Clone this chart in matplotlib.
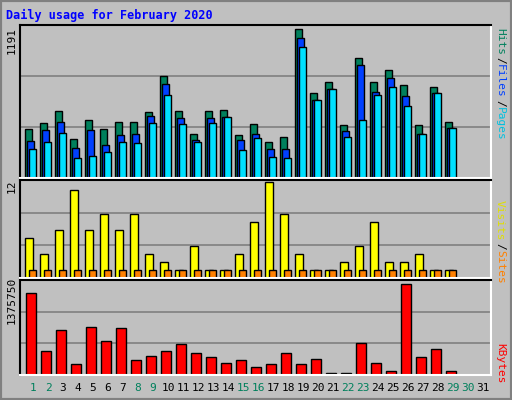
import numpy as np
import matplotlib.pyplot as plt
from matplotlib.patches import Rectangle

days = np.arange(1, 32)
weekend = [1, 2, 8, 9, 15, 16, 22, 23, 29, 30]

hits = [391, 439, 536, 310, 463, 391, 447, 447, 528, 819, 536, 351, 536, 544, 342, 431, 286,
        326, 1191, 682, 771, 423, 965, 771, 868, 747, 423, 731, 447, 0, 0]
files = [294, 383, 447, 237, 383, 261, 342, 351, 495, 754, 479, 302, 479, 488, 302, 351, 229,
         229, 1118, 625, 714, 374, 908, 690, 803, 657, 351, 682, 398, 0, 0]
pages = [229, 286, 358, 164, 173, 205, 286, 277, 439, 666, 432, 286, 439, 488, 221, 318, 167,
         164, 1053, 625, 714, 326, 463, 666, 731, 576, 351, 682, 398, 0, 0]
visits = [5, 3, 6, 11, 6, 8, 6, 8, 3, 2, 1, 4, 1, 1, 3, 7, 12, 8, 3, 1, 1, 2, 4, 7, 2, 2, 3, 1, 1, 0, 0]
sites = [1] * 29 + [0, 0]
kbytes = [1240000, 365000, 671000, 170000, 725000, 515000, 711000, 230000, 290000, 365000,
          470000, 335000, 275000, 184000, 230000, 124000, 170000, 335000, 170000, 245000,
          34000, 34000, 485000, 184000, 64000, 1375750, 275000, 395000, 64000, 0, 0]

W, H = 512, 400
fig = plt.figure(figsize=(W / 100, H / 100), dpi=100)
fig.patch.set_facecolor('#c0c0c0')
# raised frame
fig.add_artist(Rectangle((0, 0), 1, 1, transform=fig.transFigure, fill=False,
                         edgecolor='#808080', lw=3))

mono = 'DejaVu Sans Mono'
fig.text(6 / W, 1 - 15 / H, 'Daily usage for February 2020', color='#0000ff',
         fontsize=8.5, fontweight='bold', family=mono, va='center')

def px_axes(x0, y0, x1, y1):
    ax = fig.add_axes([x0 / W, 1 - y1 / H, (x1 - x0) / W, (y1 - y0) / H])
    ax.set_facecolor('#c0c0c0')
    ax.set_xlim(1 - 5 / 15, 1 + (x1 - 25) / 15)
    ax.set_xticks([])
    ax.set_yticks([])
    for s in ax.spines.values():
        s.set_color('black')
        s.set_linewidth(1.5)
    ax.spines['bottom'].set_color('white')
    ax.spines['right'].set_color('white')
    return ax

def grid(ax, top):
    for f in (1 / 3, 2 / 3):
        ax.axhline(top * f, color='#808080', lw=1.2, zorder=0)
    ax.set_ylim(0, top)

kw = dict(align='edge', edgecolor='black', linewidth=1)
w = 7 / 15

ax1 = px_axes(20, 25, 491, 178)
grid(ax1, 1226)
ax1.bar(days, hits, w, color='#00805c', **kw)
ax1.bar(days + 2 / 15, files, w, color='#0040ff', **kw)
ax1.bar(days + 4 / 15, pages, w, color='#00e0ff', **kw)

ax2 = px_axes(20, 180, 491, 278)
grid(ax2, 12.3)
ax2.bar(days, visits, 8 / 15, color='#ffff00', **kw)
ax2.bar(days + 4 / 15, sites, w, color='#ff8000', **kw)

ax3 = px_axes(20, 280, 491, 375)
grid(ax3, 1430000)
ax3.bar(days + 1 / 15, kbytes, 10 / 15, color='#ff0000', **kw)

for d in days:
    ax3.text(d + 8 / 15, -0.14, str(d), transform=ax3.get_xaxis_transform(),
             ha='center', va='center', fontsize=8, family=mono,
             color='#00805c' if d in weekend else 'black')

fig.text(12 / W, 1 - 40 / H, '1191', rotation=90, fontsize=8, family=mono, ha='center', va='center')
fig.text(12 / W, 1 - 186 / H, '12', rotation=90, fontsize=8, family=mono, ha='center', va='center')
fig.text(12 / W, 1 - 300 / H, '1375750', rotation=90, fontsize=8, family=mono, ha='center', va='center')

def side_label(y, parts):
    # parts listed top to bottom, drawn rotated 270
    yy = y
    for txt, col in parts:
        t = fig.text(500 / W, 1 - yy / H, txt, rotation=270, color=col, fontsize=8,
                     family=mono, ha='center', va='top')
        yy += len(txt) * 7.2

side_label(28, [('Hits', '#00805c'), ('/', 'black'), ('Files', '#0040ff'),
                ('/', 'black'), ('Pages', '#00c0e0')])
side_label(200, [('Visits', '#e0e000'), ('/', 'black'), ('Sites', '#ff8000')])
side_label(343, [('KBytes', '#ff0000')])

fig.savefig('out.png', dpi=100, facecolor=fig.get_facecolor())
